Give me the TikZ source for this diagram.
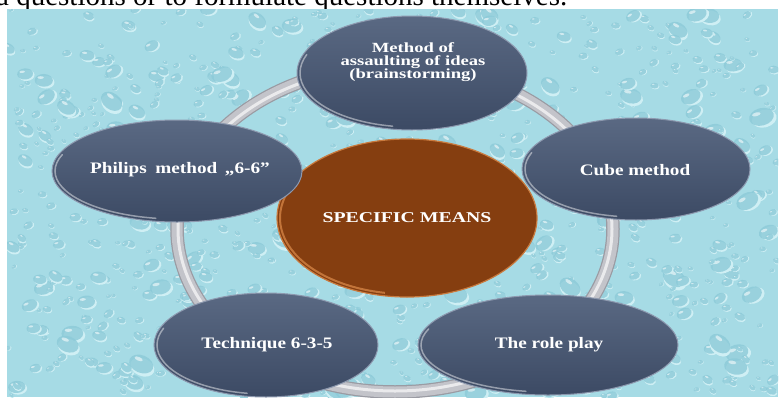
\documentclass[tikz,border=0pt]{standalone}
\usepackage{fontspec}
\setmainfont{Liberation Serif}
\usepackage{graphicx}
\usetikzlibrary{shapes.geometric,calc}

\definecolor{water}{HTML}{A6DBE5}
\definecolor{dropfill}{HTML}{8CCAD8}
\definecolor{droplight}{HTML}{CFEFF4}
\definecolor{slatetop}{HTML}{5A6983}
\definecolor{slatebot}{HTML}{3C4A64}
\definecolor{slaterim}{HTML}{8D99AF}
\definecolor{rust}{HTML}{853E10}
\definecolor{rustrim}{HTML}{C97A3E}
\definecolor{ringgrey}{HTML}{C3C4CA}
\definecolor{ringedge}{HTML}{9A9BA3}

\tikzset{
  idea/.style={ellipse, inner sep=0pt, top color=slatetop, bottom color=slatebot,
    draw=slaterim, line width=1pt},
  hub/.style={ellipse, inner sep=0pt, fill=rust, draw=rustrim, line width=1.2pt},
  caption/.style={inner sep=0pt, text=white, align=center,
    font=\bfseries\fontsize{16}{16}\selectfont},
  glint/.style={white, opacity=0.45, line width=1.5pt, line cap=round},
}
% horizontally widened lettering
\newcommand\widetext[2][1.2]{\scalebox{#1}[1]{#2}}
% light bevel along the lower left edge of an ellipse node
\newcommand\bevel[4][glint]{%
  \draw[#1] ($(#2.center)+({(#3-3)*cos(100)},{(#4-3)*sin(100)})$)
    arc[start angle=100, end angle=200, x radius=#3-3, y radius=#4-3];}

\begin{document}
\begin{tikzpicture}[x=1pt,y=-1pt]
\useasboundingbox (0,0) rectangle (782,397);
\fill[white] (0,0) rectangle (782,397);

% running text line above the panel, cut off at the top
\begin{scope}
  \clip (0,0) rectangle (782,9);
  \node[anchor=base west, inner sep=0pt, font=\fontsize{29}{29}\selectfont] (head)
    at (-4,5) {a questions or to formulate questions themselves.};
\end{scope}

% water-drop panel
\begin{scope}
  \clip (7,9) rectangle (778,397);
  \fill[water] (7,9) rectangle (778,397);
  \pgfmathsetseed{11}
  \foreach \i in {1,...,900}{
    \pgfmathsetmacro{\dx}{7+rnd*771}
    \pgfmathsetmacro{\dy}{9+rnd*388}
    \pgfmathsetmacro{\dr}{2.5+11*rnd*rnd}
    \pgfmathsetmacro{\da}{-40+80*rnd}
    \begin{scope}[shift={(\dx,\dy)}, rotate=\da]
      \fill[droplight] (0.18*\dr,0.2*\dr) ellipse[x radius=\dr, y radius=0.7*\dr];
      \fill[dropfill, opacity=0.8] (0,0) ellipse[x radius=\dr, y radius=0.7*\dr];
      \fill[white, opacity=0.55] (-0.35*\dr,-0.3*\dr) ellipse[x radius=0.35*\dr, y radius=0.15*\dr];
    \end{scope}
  }
\end{scope}

% grey ring behind the nodes
\coordinate (ringc) at (395,229);
\draw[ringedge, line width=13.5pt] (ringc) ellipse[x radius=218, y radius=163];
\draw[ringgrey, line width=11pt] (ringc) ellipse[x radius=218, y radius=163];
\draw[white, opacity=0.65, line width=3pt] (ringc) ellipse[x radius=217, y radius=162];

% central node
\node[hub, minimum width=260pt, minimum height=158pt] (hub) at (407,218) {};
\bevel[rustrim, line width=2pt, opacity=0.9]{hub}{130}{79}
\node[caption, font=\bfseries\fontsize{15}{15}\selectfont] (hubT) at (407,218)
  {\widetext[1.32]{SPECIFIC MEANS}};

% surrounding method nodes
\node[idea, minimum width=230pt, minimum height=114pt] (brain) at (412,73) {};
\bevel{brain}{115}{57}
\node[caption, font=\bfseries\fontsize{14}{13.2}\selectfont] (brainT) at (413,62)
  {\widetext[1.33]{Method of}\\ \widetext[1.33]{assaulting of ideas}\\ \widetext[1.33]{(brainstorming)}};

\node[idea, minimum width=250pt, minimum height=102pt] (philips) at (177,171) {};
\bevel{philips}{125}{51}
\node[caption] (philipsT) at (180,170) {\widetext{Philips\hspace{0.45em}method\hspace{0.4em}„6-6”}};

\node[idea, minimum width=228pt, minimum height=102pt] (cube) at (636,169) {};
\bevel{cube}{114}{51}
\node[caption] (cubeT) at (635,170) {\widetext{Cube method}};

\node[idea, minimum width=224pt, minimum height=104pt] (tech) at (266,345) {};
\bevel{tech}{112}{52}
\node[caption] (techT) at (267,345) {\widetext{Technique 6-3-5}};

\node[idea, minimum width=260pt, minimum height=100pt] (role) at (548,345) {};
\bevel{role}{130}{50}
\node[caption] (roleT) at (549,345) {\widetext{The role play}};

\end{tikzpicture}
\end{document}
